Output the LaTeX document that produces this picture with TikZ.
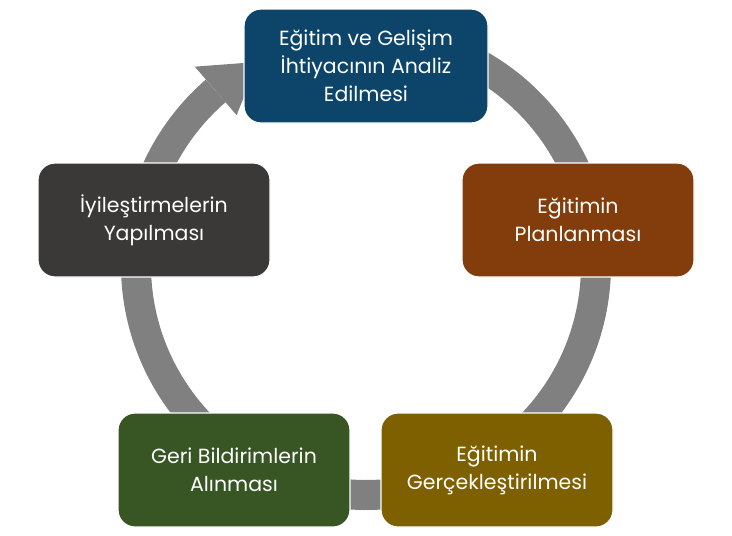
\documentclass[tikz,border=0pt]{standalone}
\usepackage{fontspec}
\setmainfont{Poppins}
\usepackage{tikz}
\usetikzlibrary{calc}

\definecolor{analizblue}{RGB}{12,68,106}
\definecolor{planbrown}{RGB}{131,60,11}
\definecolor{uygulamaolive}{RGB}{127,96,0}
\definecolor{geriGreen}{RGB}{55,86,35}
\definecolor{iyiGray}{RGB}{59,56,56}
\definecolor{ringgray}{RGB}{128,128,128}

\begin{document}
\begin{tikzpicture}[x=1pt,y=1pt,
  box/.style={rounded corners=17pt, draw=white, line width=1.2pt,
    minimum width=232pt, minimum height=114pt, text=white, align=center,
    font=\fontsize{20.5}{28}\selectfont, inner sep=0pt},
  ring/.style={ringgray, line width=30pt}]
  \useasboundingbox (0,0) rectangle (732,-536);
  % cycle ring with its head
  \coordinate (c) at (366,-265);
  \draw[ring] (c) ++(85:230) arc[start angle=85, end angle=-229.2, radius=230];
  \fill[ringgray] ($(c)+(130.8:262)$) -- ($(c)+(118:230)$) -- ($(c)+(130.8:198)$)
    -- ($(c)+(130.8:214)$) -- ($(c)+(130.8:246)$) -- cycle;
  % the five steps
  \node[box, fill=analizblue, minimum width=244pt] (analiz) at (366,-66)
    {Eğitim ve Gelişim\\İhtiyacının Analiz\\Edilmesi};
  \node[box, fill=planbrown] (planlama) at (578,-220)
    {Eğitimin\\Planlanması};
  \node[box, fill=uygulamaolive] (uygulama) at (497,-470)
    {Eğitimin\\Gerçekleştirilmesi};
  \node[box, fill=geriGreen] (geribildirim) at (234,-470)
    {Geri Bildirimlerin\\Alınması};
  \node[box, fill=iyiGray] (iyilestirme) at (154,-220)
    {İyileştirmelerin\\Yapılması};
\end{tikzpicture}
\end{document}
